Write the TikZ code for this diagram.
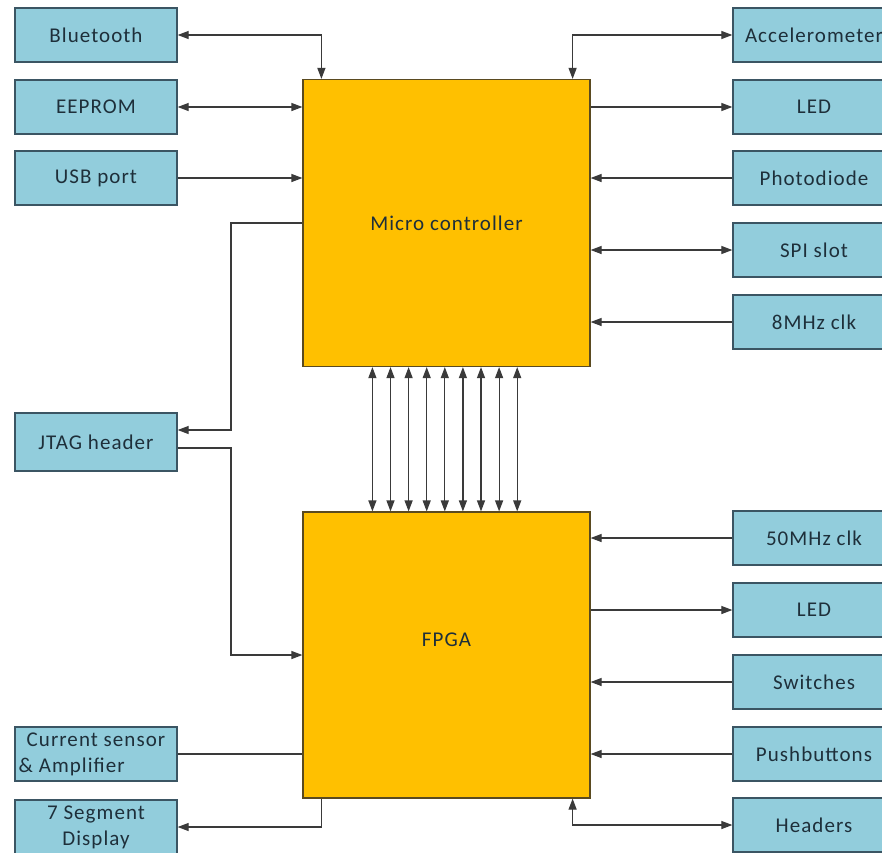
\documentclass[tikz,border=0pt]{standalone}
\usepackage{fontspec}
\setmainfont{Carlito}[LetterSpace=5]
\usetikzlibrary{arrows.meta,calc}
\definecolor{boxfill}{HTML}{92CDDC}
\definecolor{boxline}{HTML}{3B5563}
\definecolor{chipfill}{HTML}{FFC000}
\definecolor{chipline}{HTML}{5A4A20}
\definecolor{txt}{HTML}{1E2F3A}
\definecolor{wire}{HTML}{3A3A3A}
\tikzset{
  lbl/.style={text=txt, font=\fontsize{21}{26}\selectfont},
  blk/.style={lbl, draw=boxline, fill=boxfill, line width=1.3pt, minimum width=162pt, minimum height=54pt, inner sep=0pt, align=center},
  chip/.style={draw=chipline, fill=chipfill, line width=1.2pt, minimum width=287pt, minimum height=287pt, inner sep=0pt},
  conn/.style={draw=wire, line width=1.2pt},
  tip/.tip={Triangle[length=11pt,width=8pt]},
  uni/.style={conn, -tip},
  bi/.style={conn, tip-tip},
}
\begin{document}
\begin{tikzpicture}[x=1pt,y=-1pt]
\useasboundingbox (0,0) rectangle (882,852);
\fill[white] (0,0) rectangle (882,852);
% chips
\node[chip] (mc) at (446.5,223) {};
\node[lbl] (mclab) at (446.5,223) {Micro controller};
\node[chip, minimum height=286pt] (fpga) at (446.5,655) {};
\node[lbl] (fpgalab) at (446.5,640) {FPGA};
% left boxes
\node[blk] (bt) at (96,35) {Bluetooth};
\node[blk] (ee) at (96,107) {EEPROM};
\node[blk] (usb) at (96,178) {USB port};
\node[blk, minimum height=58pt] (jtag) at (96,442) {JTAG header};
\node[blk, align=left] (cs) at (96,754) {Current sensor\\\hspace*{-8pt}\& Amplifier};
\node[blk] (seg) at (96,827) {7 Segment\\Display};
% right boxes
\node[blk] (acc) at (814,35) {Accelerometer};
\node[blk] (led1) at (814,107) {LED};
\node[blk] (pd) at (814,178) {Photodiode};
\node[blk] (spi) at (814,250) {SPI slot};
\node[blk] (clk8) at (814,322) {8MHz clk};
\node[blk] (clk50) at (814,538) {50MHz clk};
\node[blk] (led2) at (814,610) {LED};
\node[blk] (sw) at (814,682) {Switches};
\node[blk] (pb) at (814,754) {Pushbuttons};
\node[blk] (hd) at (814,825) {Headers};
% coordinates
\coordinate (btx) at ([xshift=19pt]mc.north west);
\coordinate (accx) at ([xshift=-18pt]mc.north east);
\coordinate (jx) at (231,223);
\coordinate (segx) at ([xshift=19pt]fpga.south west);
\coordinate (hdx) at ([xshift=-18pt]fpga.south east);
% top micro connections
\draw[bi] (bt.east) -| (btx);
\draw[bi] (ee.east) -- (ee.east -| mc.west);
\draw[uni] (usb.east) -- (usb.east -| mc.west);
\draw[bi] (accx) |- (acc.west);
\draw[uni] (led1.west -| mc.east) -- (led1.west);
\draw[uni] (pd.west) -- (pd.west -| mc.east);
\draw[bi] (spi.west -| mc.east) -- (spi.west);
\draw[uni] (clk8.west) -- (clk8.west -| mc.east);
% JTAG
\draw[uni] (mc.west) -- (jx) |- ([yshift=12pt]jtag.east);
\draw[uni] ([yshift=-6pt]jtag.east) -| (jx |- fpga.west) -- (fpga.west);
% bus
\foreach \i in {0,...,8} {
  \draw[bi] ([xshift={70+\i*18.1}]mc.south west) -- ([xshift={70+\i*18.1}]fpga.north west);
}
% FPGA connections
\draw[uni] (clk50.west) -- (clk50.west -| fpga.east);
\draw[uni] (led2.west -| fpga.east) -- (led2.west);
\draw[uni] (sw.west) -- (sw.west -| fpga.east);
\draw[uni] (pb.west) -- (pb.west -| fpga.east);
\draw[bi] (hdx) |- (hd.west);
\draw[conn] (cs.east) -- (cs.east -| fpga.west);
\draw[uni] (segx) |- (seg.east -| bt.east);
\end{tikzpicture}
\end{document}
